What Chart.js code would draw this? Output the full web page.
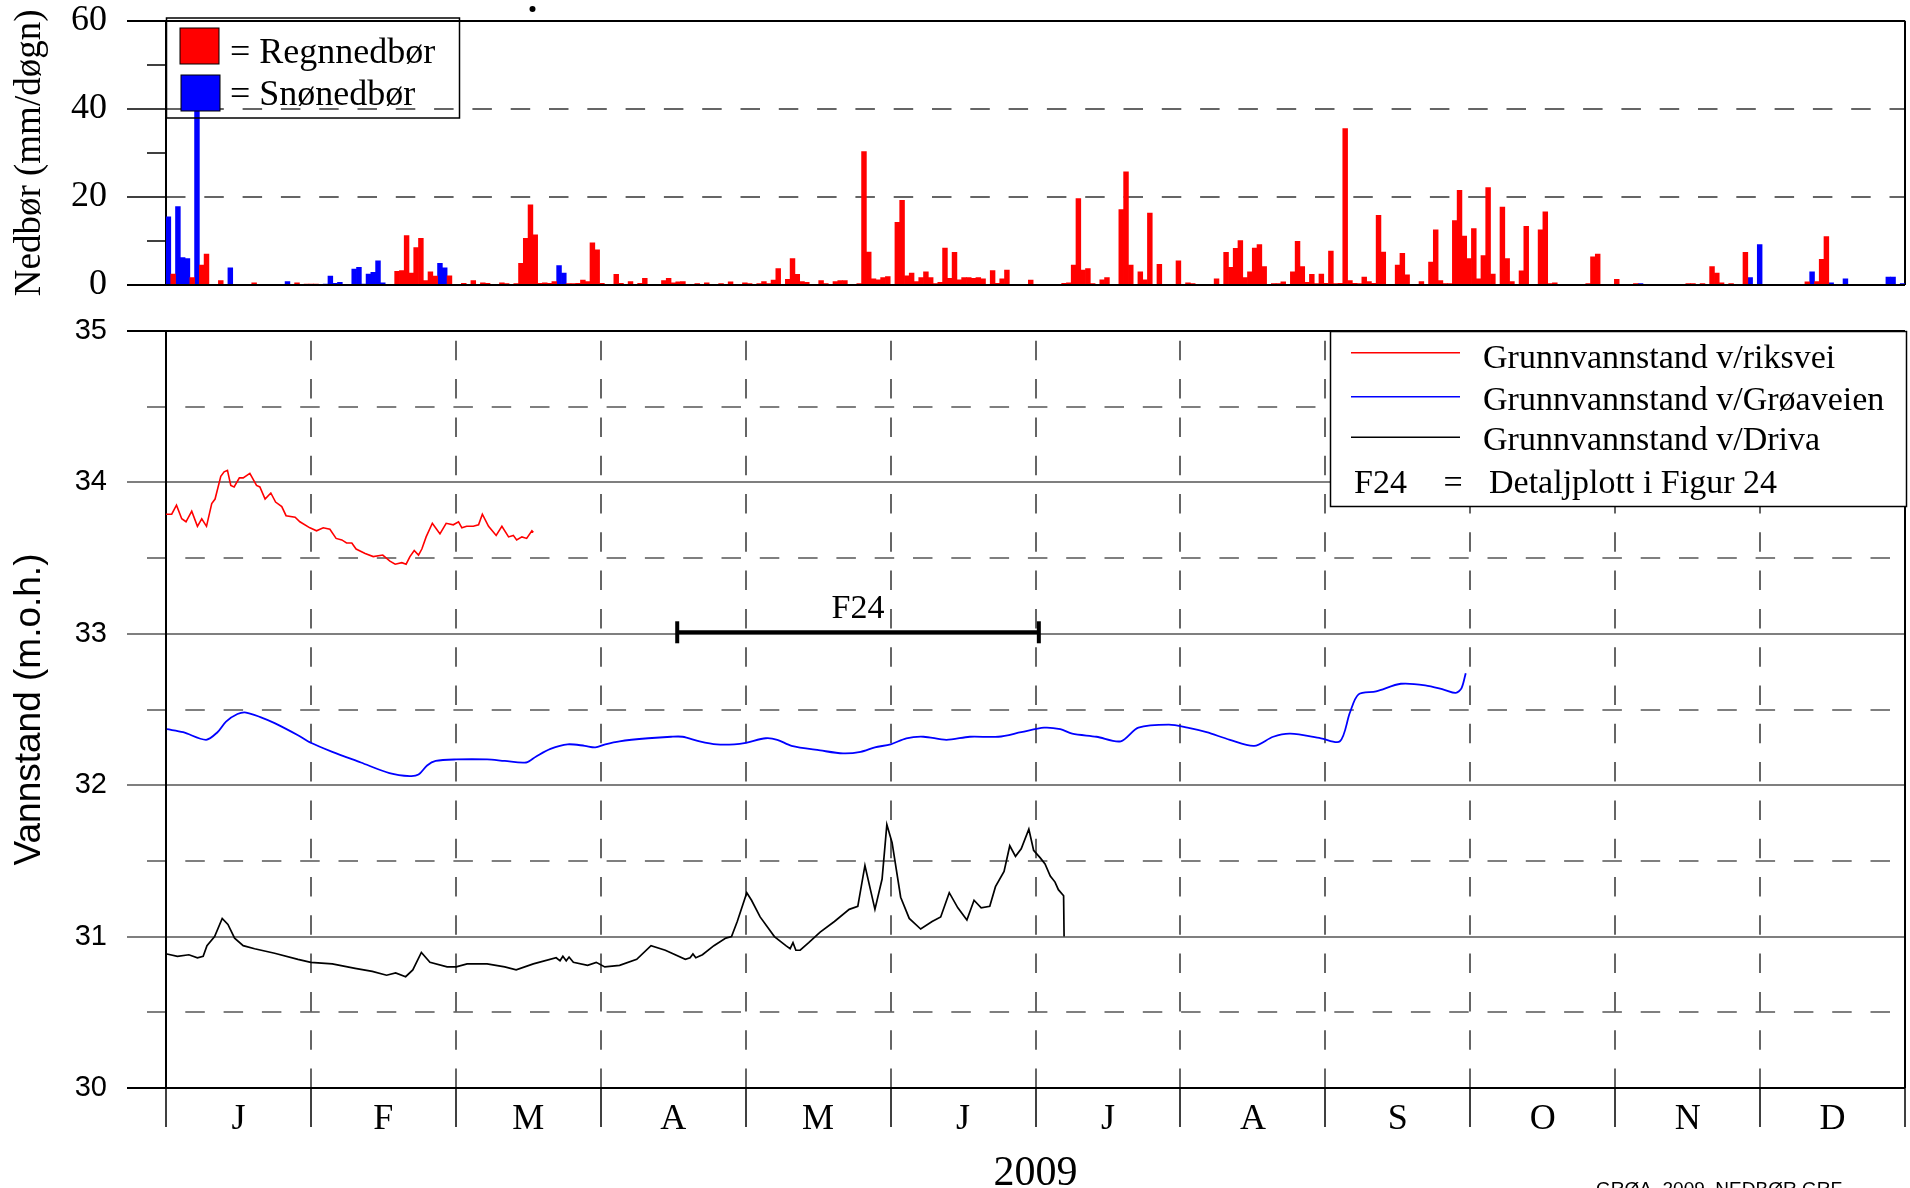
<!DOCTYPE html>
<html>
<head>
<meta charset="utf-8">
<script src="https://cdn.jsdelivr.net/npm/chart.js@4/dist/chart.umd.min.js"></script>
<style>
  html, body { margin: 0; padding: 0; background: #fff; overflow: hidden; }
  #wrap { position: relative; width: 1910px; height: 1188px; overflow: hidden; }
  #topChart { position: absolute; left: 0; top: 0; }
  #mainChart { position: absolute; left: 0; top: 300px; }
  #footer { position: absolute; left: 1596px; top: 1178px; font: 19px "Liberation Sans", Arial, sans-serif; color: #000; white-space: nowrap; }
</style>
</head>
<body>
<div id="wrap">
  <canvas id="topChart" width="1910" height="300"></canvas>
  <canvas id="mainChart" width="1910" height="888"></canvas>
  <div id="footer">GRØA_2009_NEDBØR.GRF</div>
</div>
<script>
// ---- nedbør, dag i året (0 = 1. januar) og mm/døgn ----
const rainDays = [1,5,7,8,11,18,27,29,30,31,
  48,49,50,51,52,53,54,55,56,59,62,64,66,67,70,71,73,74,75,76,77,78,79,80,81,84,85,86,87,88,89,90,91,
  94,95,97,98,99,100,104,105,106,107,108,111,113,116,118,121,122,124,125,126,127,128,130,131,132,133,134,
  137,138,140,141,142,143,145,146,147,148,149,150,151,153,154,155,156,157,158,159,160,161,162,163,164,165,
  166,167,168,169,170,171,173,174,175,176,181,
  188,189,190,191,192,193,194,196,197,200,201,202,204,205,206,208,212,214,215,220,222,223,224,225,226,227,
  228,229,230,232,233,234,236,237,238,239,240,241,242,243,244,245,246,247,248,249,250,251,252,253,254,255,
  258,259,260,263,265,266,267,268,269,270,271,272,273,274,275,276,277,278,280,281,282,284,285,288,289,290,
  291,298,299,300,304,308,319,320,322,324,325,326,328,331,344,346,347,348];
const rainMm = [2.5,1.7,4.5,7.0,1.0,0.5,0.5,0.2,0.2,0.2,
  3.1,3.3,11.2,2.7,8.5,10.6,1.0,3.0,2.0,2.1,0.4,1.0,0.5,0.4,0.5,0.3,0.3,4.9,10.6,18.2,11.4,0.4,0.5,0.4,0.8,0.3,0.3,0.4,1.1,0.8,9.6,8.0,0.4,
  2.4,0.4,0.8,0.1,0.4,1.5,1.0,1.5,0.5,0.7,0.8,0.3,0.5,0.3,0.7,0.5,0.3,0.3,0.8,0.3,1.1,3.7,1.3,6.0,2.4,0.8,0.6,
  1.0,0.3,0.8,1.0,1.0,0.1,0.3,30.3,7.5,1.4,1.2,1.7,1.9,14.2,19.2,2.1,2.7,0.8,1.7,3.0,1.7,0.3,0.6,8.4,1.5,7.4,
  1.2,1.7,1.7,1.5,1.7,1.4,3.3,0.4,1.4,3.4,1.1,
  0.4,0.5,4.5,19.6,3.4,3.7,0.3,1.2,1.7,17.1,25.7,4.5,3.0,1.2,16.3,4.7,5.5,0.5,0.3,1.4,7.4,4.0,8.3,10.1,1.7,3.0,
  8.4,9.2,4.2,0.3,0.3,0.7,3.0,9.9,4.2,0.6,2.4,0.3,2.5,0.4,7.7,0.3,0.4,35.5,1.0,0.4,0.3,1.8,0.8,0.4,15.8,7.5,
  4.5,7.2,2.3,0.8,5.2,12.5,1.0,0.3,0.3,14.6,21.5,11.1,6.0,12.8,1.4,6.7,22.1,2.5,17.7,6.0,0.8,3.2,13.3,12.5,16.6,0.3,
  0.5,0.3,6.4,7.0,1.3,0.3,0.3,0.3,0.3,4.2,2.7,0.5,0.3,7.4,0.7,0.8,5.8,11.0];
const snowDays = [0,2,3,4,6,13,25,33,34,35,36,39,40,41,42,43,44,45,57,58,82,83,309,332,334,345,349,352,361,362,364];
const snowMm = [15.5,17.8,6.2,6.0,40.5,3.9,0.8,0.2,2.0,0.4,0.6,3.6,4.0,0.2,2.5,2.9,5.5,0.5,4.9,3.9,4.4,2.7,0.3,1.7,9.2,3.0,0.5,1.4,1.8,1.8,0.3];

// ---- grunnvannstand (dag i året, m.o.h.) ----
const riksDay = [0,1.2,2.2,3.3,4.2,5.4,6.6,7.5,8.5,9.6,10.3,11.5,12.2,12.9,13.6,14.3,15.4,16.2,17.6,19.0,19.7,20.8,
  22.0,23.0,24.3,25.2,27.1,28.1,30.2,31.6,33.0,34.4,35.7,36.9,37.9,39.0,39.9,41.8,43.5,45.5,47.0,48.1,49.5,50.4,
  51.2,52.1,53.0,53.7,54.6,55.9,56.8,57.5,58.8,60.3,61.4,62.1,63.1,64.5,65.6,66.4,67.7,69.3,70.5,71.9,72.9,73.6,
  74.7,75.7,76.8,77.1];
const riksLevel = [33.79,33.79,33.85,33.76,33.74,33.81,33.71,33.76,33.71,33.86,33.89,34.04,34.07,34.08,33.98,33.97,34.03,34.03,34.06,33.98,33.97,33.89,
  33.93,33.87,33.84,33.78,33.77,33.74,33.70,33.68,33.70,33.69,33.63,33.62,33.60,33.60,33.56,33.53,33.51,33.52,33.48,33.46,33.47,33.46,
  33.51,33.55,33.52,33.56,33.64,33.73,33.69,33.66,33.73,33.72,33.74,33.70,33.71,33.71,33.72,33.79,33.71,33.65,33.71,33.64,33.65,33.62,
  33.64,33.63,33.68,33.67];

const groaDay = [0.2,3.6,8.4,10.8,12.6,15.0,16.8,19.8,22.8,27.7,30.4,34.9,40.9,46.9,51.2,53.0,54.8,56.6,60.9,67.4,71.1,75.6,
  77.7,80.7,84.3,87.9,90.1,92.2,95.2,101.2,106.0,108.4,112.0,115.6,119.3,121.7,125.9,128.3,131.3,137.3,142.1,145.8,148.8,
  152.1,155.4,159.0,163.8,168.7,174.7,179.5,184.3,187.7,190.2,195.3,200.4,204.1,210.5,214.4,218.4,223.3,228.4,232.4,236.0,
  242.4,246.4,248.5,250.3,254.0,259.2,264.3,268.3,270.7,271.9,272.8];
const groaLevel = [32.37,32.35,32.30,32.35,32.42,32.47,32.48,32.45,32.41,32.33,32.28,32.22,32.15,32.08,32.06,32.07,32.13,32.16,32.17,32.17,32.16,32.15,
  32.19,32.24,32.27,32.26,32.25,32.27,32.29,32.31,32.32,32.32,32.29,32.27,32.27,32.28,32.31,32.30,32.26,32.23,32.21,32.22,32.25,
  32.27,32.31,32.32,32.30,32.32,32.32,32.35,32.38,32.37,32.34,32.32,32.29,32.38,32.40,32.38,32.35,32.30,32.26,32.32,32.34,
  32.31,32.29,32.48,32.60,32.62,32.67,32.66,32.63,32.61,32.64,32.74];

const drivaDay = [0.2,2.4,4.8,6.6,7.8,8.6,10.2,11.8,13.0,14.4,16.2,18.6,22.8,27.7,30.4,34.9,39.7,43.3,46.3,48.2,50.3,51.8,
  53.6,55.4,59.0,60.9,63.2,67.4,71.1,73.5,77.1,81.9,82.7,83.3,84.0,84.6,85.5,88.5,90.3,92.1,95.2,98.8,101.8,104.8,109.0,
  110.0,110.6,111.2,112.6,115.0,117.5,
  118.7,119.9,121.9,122.9,124.7,127.7,130.1,131.0,131.6,132.2,133.1,134.9,137.3,140.3,143.4,145.2,146.7,148.8,150.3,151.3,152.4,154.2,156.0,
  158.4,160.8,162.6,164.4,166.2,168.1,169.6,171.1,172.9,174.1,175.9,177.1,178.3,179.5,181.1,182.1,183.5,184.5,185.6,
  186.6,187.3,188.4,188.5];
const drivaLevel = [30.885,30.87,30.88,30.86,30.87,30.94,31.0,31.12,31.08,30.99,30.94,30.92,30.89,30.85,30.83,30.82,30.79,30.77,30.745,30.76,30.735,30.78,
  30.895,30.83,30.80,30.80,30.82,30.82,30.80,30.78,30.82,30.86,30.84,30.87,30.84,30.865,30.83,30.81,30.83,30.80,30.81,30.85,30.94,30.91,30.85,
  30.86,30.885,30.86,30.88,30.94,30.99,
  31.0,31.10,31.29,31.24,31.13,31.0,30.94,30.92,30.96,30.91,30.91,30.96,31.03,31.10,31.18,31.20,31.47,31.18,31.38,31.74,31.62,31.26,31.12,
  31.05,31.10,31.13,31.29,31.19,31.11,31.24,31.19,31.20,31.33,31.43,31.60,31.53,31.58,31.71,31.57,31.52,31.48,31.40,
  31.36,31.31,31.27,31.00];

// ---- akse og markering ----
const yearDays = 365;
const monthLetters = ["J","F","M","A","M","J","J","A","S","O","N","D"];
const f24Start = 107.3, f24End = 183.2, f24Level = 33.01;

const serif = "'Liberation Serif', 'Times New Roman', serif";
const sans = "'Liberation Sans', Arial, sans-serif";

const monthEdges = Array.from({ length: 13 }, (_, i) => i * yearDays / 12);
const monthMids = monthLetters.map((_, i) => (i + 0.5) * yearDays / 12);

function toPoints(xs, ys) {
  return xs.map((x, i) => ({ x, y: ys[i] }));
}

function hline(ctx, x1, x2, y) {
  ctx.beginPath(); ctx.moveTo(x1, y); ctx.lineTo(x2, y); ctx.stroke();
}
function vline(ctx, x, y1, y2) {
  ctx.beginPath(); ctx.moveTo(x, y1); ctx.lineTo(x, y2); ctx.stroke();
}

const DASH = [19.5, 18.8];

const topDecor = {
  id: "topDecor",
  beforeDatasetsDraw(chart) {
    const ctx = chart.ctx, a = chart.chartArea, y = chart.scales.y;
    ctx.save();
    ctx.strokeStyle = "#333"; ctx.lineWidth = 1.5; ctx.setLineDash(DASH);
    [20, 40].forEach(v => hline(ctx, a.left, a.right, Math.round(y.getPixelForValue(v))));
    ctx.setLineDash([]);
    ctx.strokeStyle = "#000"; ctx.lineWidth = 1.5;
    [20, 40].forEach(v => hline(ctx, a.left - 39, a.left, Math.round(y.getPixelForValue(v))));
    [10, 30, 50].forEach(v => hline(ctx, a.left - 19, a.left, Math.round(y.getPixelForValue(v))));
    ctx.lineWidth = 2;
    hline(ctx, a.left - 39, a.right, Math.round(y.getPixelForValue(60)));
    vline(ctx, a.left, a.top, a.bottom);
    vline(ctx, a.right, a.top, a.bottom);
    ctx.restore();
  },
  afterDatasetsDraw(chart) {
    const ctx = chart.ctx, a = chart.chartArea, y = chart.scales.y;
    ctx.save();
    ctx.strokeStyle = "#000"; ctx.lineWidth = 2;
    hline(ctx, a.left - 39, a.right, Math.round(y.getPixelForValue(0)));
    // legend
    ctx.lineWidth = 1.5;
    ctx.strokeRect(a.left + 0.5, 18, 293, 100);
    ctx.fillStyle = "#ff0000"; ctx.fillRect(180, 28, 39, 36);
    ctx.fillStyle = "#0000ff"; ctx.fillRect(181, 75, 39, 36);
    ctx.lineWidth = 1;
    ctx.strokeRect(180, 28, 39, 36);
    ctx.strokeRect(181, 75, 39, 36);
    ctx.fillStyle = "#000";
    ctx.font = "36px " + serif;
    ctx.textBaseline = "alphabetic";
    ctx.fillText("= Regnnedbør", 230, 63);
    ctx.fillText("= Snønedbør", 230, 105);
    ctx.beginPath(); ctx.arc(532.5, 9, 3, 0, Math.PI * 2); ctx.fill();
    ctx.restore();
  }
};

const mainDecor = {
  id: "mainDecor",
  beforeDatasetsDraw(chart) {
    const ctx = chart.ctx, a = chart.chartArea, x = chart.scales.x, y = chart.scales.y;
    ctx.save();
    ctx.strokeStyle = "#555"; ctx.lineWidth = 1.5; ctx.setLineDash(DASH);
    [30.5, 31.5, 32.5, 33.5, 34.5].forEach(v => hline(ctx, a.left - 19, a.right, Math.round(y.getPixelForValue(v))));
    ctx.strokeStyle = "#333";
    monthEdges.slice(1, 12).forEach(d => {
      const px = Math.round(x.getPixelForValue(d));
      ctx.beginPath(); ctx.moveTo(px, a.bottom); ctx.lineTo(px, a.top); ctx.stroke();
    });
    ctx.setLineDash([]);
    ctx.strokeStyle = "#555";
    [31, 32, 33, 34].forEach(v => hline(ctx, a.left - 39, a.right, Math.round(y.getPixelForValue(v))));
    ctx.strokeStyle = "#000"; ctx.lineWidth = 1.5;
    monthEdges.forEach(d => {
      const px = Math.round(x.getPixelForValue(d));
      vline(ctx, px, a.bottom, a.bottom + 39);
    });
    ctx.lineWidth = 2;
    hline(ctx, a.left - 39, a.right, Math.round(y.getPixelForValue(35)));
    hline(ctx, a.left - 39, a.right, Math.round(y.getPixelForValue(30)));
    vline(ctx, a.left, a.top, a.bottom);
    vline(ctx, a.right, a.top, a.bottom);
    ctx.restore();
  },
  afterDatasetsDraw(chart) {
    const ctx = chart.ctx, x = chart.scales.x, y = chart.scales.y;
    ctx.save();
    // F24 marker
    const x1 = x.getPixelForValue(f24Start), x2 = x.getPixelForValue(f24End);
    const py = y.getPixelForValue(f24Level);
    ctx.strokeStyle = "#000"; ctx.lineWidth = 4;
    hline(ctx, x1, x2, py);
    vline(ctx, x1, py - 11, py + 11);
    vline(ctx, x2, py - 11, py + 11);
    ctx.fillStyle = "#000";
    ctx.font = "34px " + serif;
    ctx.textAlign = "center"; ctx.textBaseline = "alphabetic";
    ctx.fillText("F24", (x1 + x2) / 2, py - 14);

    // legend box
    const bx = 1330, by = 31, bw = 577, bh = 175;
    ctx.fillStyle = "#fff"; ctx.fillRect(bx, by, bw, bh);
    ctx.strokeStyle = "#000"; ctx.lineWidth = 1.5;
    ctx.strokeRect(bx + 0.5, by + 0.5, bw - 1, bh);
    const rows = chart.data.datasets;
    const lineY = [52.7, 96.7, 137.3];
    const baseY = [68, 110, 150];
    ctx.textAlign = "left";
    ctx.font = "34px " + serif;
    rows.forEach((ds, i) => {
      ctx.strokeStyle = ds.borderColor; ctx.lineWidth = 1.5;
      hline(ctx, 1351, 1460, lineY[i]);
      ctx.fillStyle = "#000";
      ctx.fillText(ds.label, 1483, baseY[i]);
    });
    ctx.fillText("F24", 1354, 192.7);
    ctx.textAlign = "center";
    ctx.fillText("=", 1453, 192.7);
    ctx.textAlign = "left";
    ctx.fillText("Detaljplott i Figur 24", 1489, 192.7);
    ctx.restore();
  }
};

new Chart(document.getElementById("topChart"), {
  type: "bar",
  data: {
    datasets: [
      {
        label: "Regnnedbør",
        data: toPoints(rainDays.map(d => d + 0.5), rainMm),
        backgroundColor: "#ff0000",
        borderWidth: 0,
        barThickness: 4.8,
        grouped: false
      },
      {
        label: "Snønedbør",
        data: toPoints(snowDays.map(d => d + 0.5), snowMm),
        backgroundColor: "#0000ff",
        borderWidth: 0,
        barThickness: 4.8,
        grouped: false
      }
    ]
  },
  options: {
    responsive: false,
    animation: false,
    layout: { padding: { left: 0, right: 5, top: 20.7, bottom: 15 } },
    plugins: { legend: { display: false }, tooltip: { enabled: false } },
    scales: {
      x: { type: "linear", min: 0, max: yearDays, offset: false, display: false },
      y: {
        min: 0, max: 60,
        ticks: { stepSize: 20, padding: 59, color: "#000", font: { family: serif, size: 36 } },
        grid: { display: false, drawTicks: false },
        border: { display: false },
        title: {
          display: true, text: "Nedbør (mm/døgn)", color: "#000",
          font: { family: serif, size: 37, lineHeight: 1 },
          padding: { top: 12, bottom: 0 }
        },
        afterFit(s) { s.width = 166; s.paddingTop = 0; s.paddingBottom = 0; }
      }
    }
  },
  plugins: [topDecor]
});

new Chart(document.getElementById("mainChart"), {
  type: "line",
  data: {
    datasets: [
      { label: "Grunnvannstand v/riksvei", data: toPoints(riksDay, riksLevel), borderColor: "#ff0000", borderWidth: 1.6, pointRadius: 0, tension: 0 },
      { label: "Grunnvannstand v/Grøaveien", data: toPoints(groaDay, groaLevel), borderColor: "#0000ff", borderWidth: 1.8, pointRadius: 0, tension: 0.3 },
      { label: "Grunnvannstand v/Driva", data: toPoints(drivaDay, drivaLevel), borderColor: "#000000", borderWidth: 1.7, pointRadius: 0, tension: 0 }
    ]
  },
  options: {
    responsive: false,
    animation: false,
    layout: { padding: { left: 0, right: 5, top: 31, bottom: 0 } },
    plugins: { legend: { display: false }, tooltip: { enabled: false } },
    scales: {
      x: {
        type: "linear", min: 0, max: yearDays,
        afterBuildTicks(s) { s.ticks = monthMids.map(v => ({ value: v })); },
        ticks: {
          callback: (v, i) => monthLetters[i],
          autoSkip: false, maxRotation: 0, padding: 10,
          color: "#000", font: { family: serif, size: 36 }
        },
        grid: { display: false, drawTicks: false },
        border: { display: false },
        title: {
          display: true, text: "2009", color: "#000",
          font: { family: serif, size: 42, lineHeight: 1 },
          padding: { top: 0, bottom: -7 }
        },
        afterFit(s) { s.height = 100; s.paddingLeft = 0; s.paddingRight = 0; }
      },
      y: {
        min: 30, max: 35,
        ticks: { stepSize: 1, padding: 59, color: "#000", font: { family: sans, size: 29 } },
        grid: { display: false, drawTicks: false },
        border: { display: false },
        title: {
          display: true, text: "Vannstand (m.o.h.)", color: "#000",
          font: { family: sans, size: 37, lineHeight: 1 },
          padding: { top: 11, bottom: 0 }
        },
        afterFit(s) { s.width = 166; s.paddingTop = 0; s.paddingBottom = 0; }
      }
    }
  },
  plugins: [mainDecor]
});
</script>
</body>
</html>
